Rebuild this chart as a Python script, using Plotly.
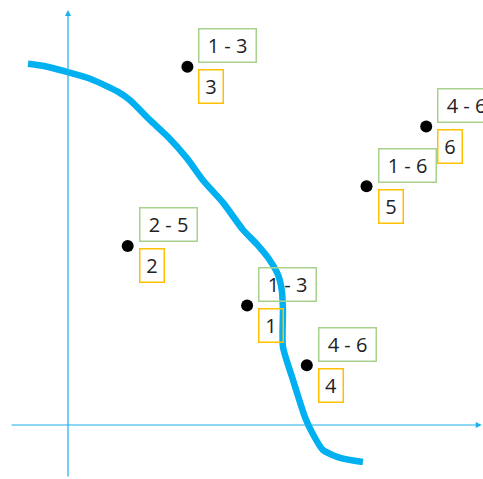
import plotly.graph_objects as go

# Data points (x, y), their range labels and index labels
point_x = [3, 1, 2, 4, 5, 6]
point_y = [2, 3, 6, 1, 4, 5]
range_labels = ["1 - 3", "2 - 5", "1 - 3", "4 - 6", "1 - 6", "4 - 6"]
index_labels = ["1", "2", "3", "4", "5", "6"]

# Boundary curve
curve_x = [-0.67, -0.385, 0.0, 0.37, 0.84, 1.04, 1.37, 1.68, 1.99, 2.26, 2.60, 2.93,
           3.17, 3.38, 3.52, 3.58, 3.60, 3.60, 3.77, 3.97, 4.09, 4.27, 4.56, 4.94]
curve_y = [6.05, 6.01, 5.91, 5.80, 5.58, 5.44, 5.11, 4.82, 4.47, 4.10, 3.72, 3.27,
           3.02, 2.76, 2.51, 2.26, 1.93, 1.31, 0.75, 0.13, -0.13, -0.42, -0.55, -0.62]

AXIS_COLOR = "#1cb0ee"
CURVE_COLOR = "#00b0f0"
GREEN = "#a9d18e"
ORANGE = "#ffc000"
TEXT = "#222222"
FONT = "Open Sans"

fig = go.Figure()
fig.add_trace(go.Scatter(x=curve_x, y=curve_y, mode="lines",
                         line=dict(color=CURVE_COLOR, width=6.5, shape="spline", smoothing=0.6),
                         hoverinfo="skip", showlegend=False))
fig.add_trace(go.Scatter(x=point_x, y=point_y, mode="markers",
                         marker=dict(color="black", size=12), showlegend=False))

annotations = []
# axes with arrows
annotations.append(dict(x=6.93, y=0, ax=-0.97, ay=0, xref="x", yref="y", axref="x", ayref="y",
                        showarrow=True, arrowhead=2, arrowsize=1, arrowwidth=1.2,
                        arrowcolor=AXIS_COLOR, text=""))
annotations.append(dict(x=0, y=6.95, ax=0, ay=-0.89, xref="x", yref="y", axref="x", ayref="y",
                        showarrow=True, arrowhead=2, arrowsize=1, arrowwidth=1.2,
                        arrowcolor=AXIS_COLOR, text=""))

for px, py, rl, il in zip(point_x, point_y, range_labels, index_labels):
    annotations.append(dict(x=px, y=py, xref="x", yref="y", text=rl, showarrow=False,
                            xanchor="left", yanchor="middle", xshift=11, yshift=21,
                            width=54, height=30, borderpad=1, borderwidth=1.5,
                            bordercolor=GREEN, font=dict(family=FONT, size=20, color=TEXT)))
    annotations.append(dict(x=px, y=py, xref="x", yref="y", text=il, showarrow=False,
                            xanchor="left", yanchor="middle", xshift=11, yshift=-20,
                            width=21, height=30, borderpad=1, borderwidth=1.5,
                            bordercolor=ORANGE, font=dict(family=FONT, size=20, color=TEXT)))

fig.update_layout(
    width=483, height=479,
    margin=dict(l=0, r=0, t=0, b=0),
    paper_bgcolor="white", plot_bgcolor="white",
    xaxis=dict(range=[-1.139, 6.951], visible=False, fixedrange=True),
    yaxis=dict(range=[-0.905, 7.119], visible=False, fixedrange=True),
    annotations=annotations,
    showlegend=False,
)

fig.write_html("out.html", config={"displayModeBar": False},
               post_script="document.body.style.margin='0';document.body.style.overflow='hidden';")
